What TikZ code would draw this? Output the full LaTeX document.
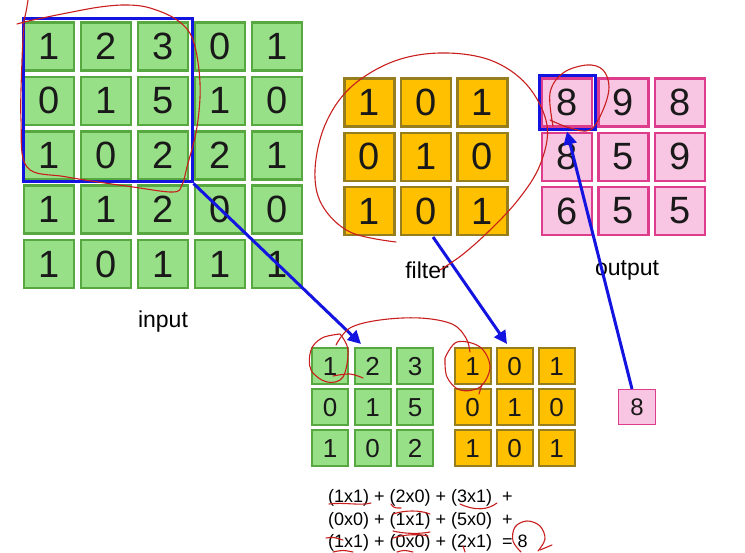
\documentclass[tikz,border=0pt]{standalone}
\usepackage{fontspec}
\setmainfont{Liberation Sans}
\usetikzlibrary{arrows.meta}
\definecolor{gfill}{RGB}{152,224,136}
\definecolor{gdraw}{RGB}{88,168,66}
\definecolor{ofill}{RGB}{255,192,0}
\definecolor{odraw}{RGB}{150,125,30}
\definecolor{pfill}{RGB}{248,198,226}
\definecolor{pdraw}{RGB}{222,60,140}
\definecolor{bblue}{RGB}{20,20,225}
\definecolor{scr}{RGB}{200,30,30}
\begin{document}
\begin{tikzpicture}[x=1pt,y=-1pt,
  cellbase/.style={inner sep=0pt,text=black!90},
  bigc/.style={cellbase,minimum width=50pt,minimum height=48pt,line width=2.5pt,font=\fontsize{38}{38}\selectfont},
  smallc/.style={cellbase,minimum width=36pt,minimum height=36pt,line width=2pt,font=\fontsize{26}{26}\selectfont},
  gcell/.style={draw=gdraw,fill=gfill},
  ocell/.style={draw=odraw,fill=ofill},
  pcell/.style={draw=pdraw,fill=pfill},
  bluebox/.style={draw=bblue,line width=3pt,inner sep=0pt},
  arr/.style={draw=bblue,line width=3pt,-{Triangle[length=13pt,width=13pt]}},
  lbl/.style={font=\fontsize{23}{24}\selectfont,inner sep=0pt},
  eq/.style={font=\fontsize{18}{20}\selectfont,inner sep=0pt,anchor=base west},
  scrib/.style={draw=scr,line width=1.1pt,line cap=round}
]
\useasboundingbox (0,0) rectangle (745,553);
% input grid
\foreach \r/\row in {1/{1,2,3,0,1},2/{0,1,5,1,0},3/{1,0,2,2,1},4/{1,1,2,0,0},5/{1,0,1,1,1}}{
  \foreach \v [count=\c] in \row {
    \node[bigc,gcell] (in-\r-\c) at ({49+57*(\c-1)},{46.5+54.4*(\r-1)}) {\v};
  }
}
% filter grid
\foreach \r/\row in {1/{1,0,1},2/{0,1,0},3/{1,0,1}}{
  \foreach \v [count=\c] in \row {
    \node[bigc,ocell] (fi-\r-\c) at ({369.5+56.5*(\c-1)},{102.5+54.3*(\r-1)}) {\v};
  }
}
% output grid
\foreach \r/\row in {1/{8,9,8},2/{8,5,9},3/{6,5,5}}{
  \foreach \v [count=\c] in \row {
    \node[bigc,pcell] (ou-\r-\c) at ({567+56.5*(\c-1)},{102.5+54.3*(\r-1)}) {\v};
  }
}
% small green grid
\foreach \r/\row in {1/{1,2,3},2/{0,1,5},3/{1,0,2}}{
  \foreach \v [count=\c] in \row {
    \node[smallc,gcell] (sg-\r-\c) at ({330+42.5*(\c-1)},{366.5+41*(\r-1)}) {\v};
  }
}
% small orange grid
\foreach \r/\row in {1/{1,0,1},2/{0,1,0},3/{1,0,1}}{
  \foreach \v [count=\c] in \row {
    \node[smallc,ocell] (so-\r-\c) at ({472.5+42*(\c-1)},{366.5+41*(\r-1)}) {\v};
  }
}
% single result
\node[cellbase,pcell,line width=1.8pt,minimum width=37pt,minimum height=35pt,font=\fontsize{24}{24}\selectfont] (res) at (637,407) {8};
% blue boxes
\node[bluebox,minimum width=169pt,minimum height=163pt] (inbox) at (107.5,100.5) {};
\node[bluebox,minimum width=56pt,minimum height=54pt] (outbox) at (567,103) {};
% labels
\node[lbl] (lin) at (163,322) {input};
\node[lbl] (lfil) at (427,270) {filter};
\node[lbl] (lout) at (627,270) {output};
% equation
\node[eq] (eq1) at (328,502) {(1x1) + (2x0) + (3x1)\ \ +};
\node[eq] (eq2) at (328,525) {(0x0) + (1x1) + (5x0)\ \ +};
\node[eq] (eq3) at (328,547) {(1x1) + (0x0) + (2x1)\ \ = 8};
% arrows
\coordinate (a1) at (361,344);
\coordinate (f0) at (433,237);
\coordinate (a2) at (507,344);
\coordinate (r0) at (632,389);
\draw[arr] (inbox.south east) -- (a1);
\draw[arr] (f0) -- (a2);
\draw[arr] (r0) -- (outbox.south);
% red scribbles
\draw[scrib] plot[smooth,tension=0.6] coordinates {(28,0) (26,12) (23,24)};
\draw[scrib] plot[smooth,tension=0.6] coordinates {(17,24) (33,20) (67,13) (100,7) (127,5) (150,8) (177,20) (193,40) (200,83) (197,127) (187,167) (182,185) (173,192) (133,187) (67,177) (27,167) (21,120) (22,60) (24,25)};
\draw[scrib] plot[smooth,tension=0.6] coordinates {(396,242) (350,232) (322,205) (315,170) (325,125) (350,88) (392,62) (440,53) (490,60) (527,85) (547,125) (540,165) (518,200) (488,232) (462,255) (440,270)};
\draw[scrib] plot[smooth,tension=0.6] coordinates {(553,126) (550,93) (563,73) (587,65) (603,70) (609,87) (603,110) (590,130) (570,128) (550,120)};
\draw[scrib] plot[smooth,tension=0.6] coordinates {(340,334) (348,350) (343,377) (327,382) (311,370) (311,350) (322,338) (340,334)};
\draw[scrib] plot[smooth,tension=0.6] coordinates {(333,376) (350,374) (363,378)};
\draw[scrib] plot[smooth,tension=0.6] coordinates {(336,345) (350,328) (380,320) (420,318) (452,324) (466,338) (470,352)};
\draw[scrib] plot[smooth,tension=0.6] coordinates {(445,358) (457,342) (480,347) (490,367) (480,387) (460,390) (447,377) (445,358)};
\draw[scrib] plot[smooth,tension=0.6] coordinates {(482,384) (479,394)};
% equation marks
\draw[scrib] (329,504) .. controls (345,502) and (360,506) .. (371,503);
\draw[scrib] (391,504) .. controls (394,508) .. (401,508);
\draw[scrib] (460,504) .. controls (475,511) and (488,510) .. (497,503);
\draw[scrib] (393,514) .. controls (405,510) and (420,510) .. (430,514);
\draw[scrib] (393,531) .. controls (405,534) and (420,534) .. (430,532);
\draw[scrib] (326,538) .. controls (333,537) .. (343,540);
\draw[scrib] (333,552) .. controls (343,550) .. (353,552);
\draw[scrib] (393,538) .. controls (405,534) and (420,534) .. (428,536);
\draw[scrib] (397,552) .. controls (404,550) .. (413,552);
\draw[scrib] (463,546) -- (465,552);
\draw[scrib] plot[smooth,tension=0.6] coordinates {(521,552) (513,541) (515,527) (527,521) (540,526) (545,539) (538,551)};
\draw[scrib] (540,550) -- (552,545);
\end{tikzpicture}
\end{document}
